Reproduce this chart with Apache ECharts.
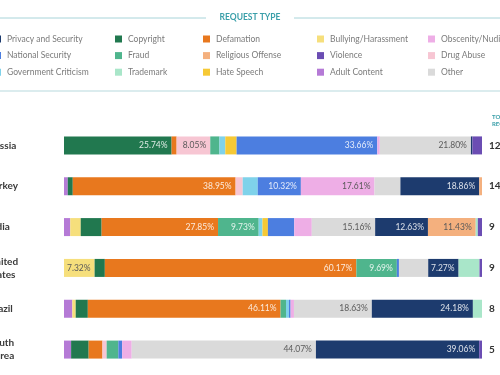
<!DOCTYPE html>
<html>
<head>
<meta charset="utf-8">
<script src="https://cdn.jsdelivr.net/npm/echarts@6/dist/echarts.min.js"></script>
<style>
  html, body { margin: 0; padding: 0; background: #fff; }
  #chart { width: 500px; height: 375px; }
</style>
</head>
<body>
<div id="chart"></div>
<script>
var dom = document.getElementById('chart');
var myChart = echarts.init(dom);

var countries = ['Russia', 'Turkey', 'India', 'United\nStates', 'Brazil', 'South\nKorea'];
var totals = ['12', '14', '9', '9', '8', '5'];

// share of requests (%) per country, same order as countries
var adultContent   = [0,     0.9,   1.5,   0,     2.0,   1.7];
var bullying       = [0,     0,     2.5,   7.32,  0.8,   0];
var copyright      = [25.74, 1.2,   5.0,   2.45,  2.9,   4.2];
var defamation     = [1.2,   38.95, 27.85, 60.17, 46.11, 3.3];
var drugAbuse      = [8.05,  1.7,   0,     0,     0,     1.0];
var fraud          = [2.2,   0,     9.73,  9.69,  1.3,   2.8];
var govCriticism   = [1.4,   3.6,   0.9,   0,     0.7,   0];
var hateSpeech     = [2.7,   0,     1.3,   0,     0,     0];
var nationalSec    = [33.66, 10.32, 6.3,   0.5,   0.4,   0.9];
var obscenity      = [0.6,   17.61, 4.2,   0,     0.8,   2.3];
var other          = [21.80, 6.2,   15.16, 7.0,   18.63, 44.07];
var privacy        = [0.35,  18.86, 12.63, 7.27,  24.18, 39.06];
var religious      = [0,     0.66,  11.43, 0,     0,     0];
var trademark      = [0,     0,     0.5,   5.0,   2.18,  0];
var violence       = [2.3,   0,     1.0,   0.6,   0,     0.67];

// stacking order in the bars (alphabetical)
var types = [
  ['Adult Content', adultContent, '#b57ad6', false],
  ['Bullying/Harassment', bullying, '#f6df7c', true],
  ['Copyright', copyright, '#21784f', false],
  ['Defamation', defamation, '#e8781e', false],
  ['Drug Abuse', drugAbuse, '#f7c6d3', true],
  ['Fraud', fraud, '#4fb58d', false],
  ['Government Criticism', govCriticism, '#7fd2ea', true],
  ['Hate Speech', hateSpeech, '#f6c935', true],
  ['National Security', nationalSec, '#4c7ee0', false],
  ['Obscenity/Nudity', obscenity, '#eeaee6', true],
  ['Other', other, '#dadada', true],
  ['Privacy and Security', privacy, '#1d3b6e', false],
  ['Religious Offense', religious, '#f4b07e', true],
  ['Trademark', trademark, '#a9e6c9', true],
  ['Violence', violence, '#6b4db3', false]
];

// legend columns as laid out in the header
var legendCols = [
  ['Privacy and Security', 'National Security', 'Government Criticism'],
  ['Copyright', 'Fraud', 'Trademark'],
  ['Defamation', 'Religious Offense', 'Hate Speech'],
  ['Bullying/Harassment', 'Violence', 'Adult Content'],
  ['Obscenity/Nudity', 'Drug Abuse', 'Other']
];
var legendLeft = [-6, 115, 203, 317, 428];

var series = types.map(function (t) {
  return {
    name: t[0],
    type: 'bar',
    stack: 'all',
    barWidth: 18,
    data: t[1],
    itemStyle: { color: t[2] },
    label: {
      show: true,
      position: 'insideRight',
      distance: 4,
      fontSize: 8.5,
      fontFamily: 'Lato',
      color: t[3] ? '#5a5a5a' : 'rgba(255,255,255,0.85)',
      formatter: function (p) {
        return p.value >= 7.2 ? p.value.toFixed(2) + '%' : '';
      }
    }
  };
});

var legends = legendCols.map(function (col, i) {
  return {
    data: col,
    orient: 'vertical',
    left: legendLeft[i],
    top: 34,
    padding: 0,
    itemWidth: 7,
    itemHeight: 7,
    itemGap: 6.6,
    icon: 'rect',
    selectedMode: false,
    textStyle: { fontSize: 8.5, color: '#7b7b7b', fontFamily: 'Lato', lineHeight: 10, padding: [0, 0, 0, 1] }
  };
});

option = {
  animation: false,
  backgroundColor: '#fff',
  legend: legends,
  grid: { left: 64, right: 18, top: 125, bottom: 5, outerBoundsMode: 'none', containLabel: false },
  xAxis: { type: 'value', min: 0, max: 100, show: false },
  yAxis: [{
    type: 'category',
    data: countries,
    inverse: true,
    axisLine: { show: false },
    axisTick: { show: false },
    axisLabel: {
      align: 'left',
      margin: 76,
      fontSize: 10,
      lineHeight: 13,
      fontWeight: 'bold',
      color: '#3a3a3a',
      fontFamily: 'Lato'
    }
  }, {
    type: 'category',
    data: totals,
    inverse: true,
    position: 'right',
    axisLine: { show: false },
    axisTick: { show: false },
    axisLabel: {
      align: 'left',
      margin: 7,
      fontSize: 10,
      fontWeight: 'bold',
      color: '#333',
      fontFamily: 'Lato'
    }
  }],
  graphic: [
    { type: 'line', shape: { x1: 0, y1: 18, x2: 206, y2: 18 }, style: { stroke: '#a8d4d9', lineWidth: 1 } },
    { type: 'line', shape: { x1: 294, y1: 18, x2: 500, y2: 18 }, style: { stroke: '#a8d4d9', lineWidth: 1 } },
    { type: 'text', left: 'center', top: 13, style: { text: 'REQUEST TYPE', fill: '#3a9fa9', font: 'bold 8.5px Lato' } },
    { type: 'line', shape: { x1: 0, y1: 91, x2: 500, y2: 91 }, style: { stroke: '#cfe6e8', lineWidth: 1.5 } },
    { type: 'text', left: 492, top: 114, style: { text: 'TOTAL\nREQUESTS', fill: '#3a9fa9', font: 'bold 6px Lato', lineHeight: 7 } }
  ],
  series: series
};

if (option && typeof option === 'object') {
  myChart.setOption(option, true);
}
</script>
</body>
</html>
